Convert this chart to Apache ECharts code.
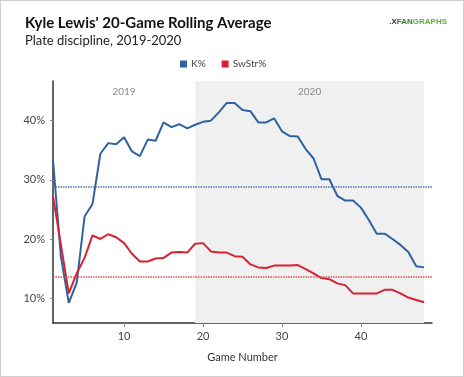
<!DOCTYPE html>
<html>
<head>
<meta charset="utf-8">
<script src="https://cdn.jsdelivr.net/npm/echarts@6/dist/echarts.min.js"></script>
<style>
  html, body { margin: 0; padding: 0; background: #fff; }
  #chart { width: 464px; height: 377px; box-sizing: border-box; border: 1px solid #cfcfcf; }
</style>
</head>
<body>
<div id="chart"></div>
<script>
// game numbers 1..48
const games = [1,2,3,4,5,6,7,8,9,10,11,12,13,14,15,16,17,18,19,20,21,22,23,24,
  25,26,27,28,29,30,31,32,33,34,35,36,37,38,39,40,41,42,43,44,45,46,47,48]

// K% 20-game rolling
const kPct = [33.3,17.0,9.2,12.6,23.8,25.9,34.4,36.2,36.0,37.2,34.8,34.0,36.8,36.6,39.7,38.9,39.4,38.7,39.3,39.8,
  40.0,41.4,43.0,43.0,41.8,41.6,39.7,39.7,40.4,38.2,37.4,37.3,35.2,33.6,30.1,30.1,27.3,26.5,26.5,25.3,
  23.2,20.9,20.9,20.0,19.0,17.8,15.4,15.2]

// SwStr% 20-game rolling
const swStr = [27.3,19.0,10.8,14.2,16.8,20.6,20.0,20.8,20.3,19.3,17.5,16.2,16.2,16.7,16.8,17.7,17.8,17.7,19.2,19.3,
  17.9,17.7,17.7,17.1,17.0,15.7,15.2,15.1,15.5,15.5,15.5,15.6,14.9,14.2,13.4,13.2,12.5,12.2,10.8,10.8,
  10.8,10.8,11.4,11.4,10.8,10.1,9.7,9.3]

// season averages (dotted)
const kAvg = 28.8
const swAvg = 13.6

const xTicks = [10, 20, 30, 40]
const yTicks = [10, 20, 30, 40]

const seasons = [
  { name: '2019', from: 1, to: 19 },
  { name: '2020', from: 19, to: 48 }
]

const blue = '#2f63a0'
const red = '#d62232'

const chart = echarts.init(document.getElementById('chart'))

const option = {
  animation: false,
  textStyle: { fontFamily: 'Lato, sans-serif' },
  title: {
    text: "Kyle Lewis' 20-Game Rolling Average",
    subtext: 'Plate discipline, 2019-2020',
    left: 19,
    top: 10,
    itemGap: 3,
    textStyle: { fontSize: 15, fontWeight: 'bold', color: '#111' },
    subtextStyle: { fontSize: 13, color: '#222' }
  },
  graphic: [{
    type: 'text',
    right: 16,
    top: 17,
    style: {
      text: '{a|.X}{b|FAN}{c|GRAPHS}',
      rich: {
        a: { fontSize: 8, fontWeight: 'bold', fill: '#333' },
        b: { fontSize: 8, fontWeight: 'bold', fill: '#2f7d1f' },
        c: { fontSize: 8, fontWeight: 'bold', fill: '#5fb336' }
      }
    }
  }],
  legend: {
    top: 53,
    left: 174,
    itemWidth: 7,
    itemHeight: 7,
    itemGap: 16,
    icon: 'rect',
    textStyle: { fontSize: 10, color: '#444', padding: [0, 0, 0, -1] },
    data: ['K%', 'SwStr%']
  },
  grid: { left: 52, right: 31, top: 80, bottom: 53 },
  xAxis: {
    type: 'value',
    min: 1,
    max: 49,
    name: 'Game Number',
    nameLocation: 'middle',
    nameGap: 29,
    nameTextStyle: { fontSize: 11, color: '#333' },
    axisLine: { lineStyle: { color: '#333', width: 1.5 } },
    axisTick: { show: true, customValues: xTicks, length: 4, lineStyle: { color: '#888' } },
    axisLabel: { customValues: xTicks, fontSize: 11, color: '#444', margin: 8 },
    splitLine: { show: false }
  },
  yAxis: {
    type: 'value',
    min: 5.8,
    max: 46.7,
    axisLine: { show: true, lineStyle: { color: '#333', width: 1.5 } },
    axisTick: { show: true, customValues: yTicks, length: 3, lineStyle: { color: '#888' } },
    axisLabel: { customValues: yTicks, formatter: '{value}%', fontSize: 11, color: '#444', margin: 8 },
    splitLine: { show: false }
  },
  series: [
    {
      name: 'K%',
      type: 'line',
      data: games.map((g, i) => [g, kPct[i]]),
      showSymbol: false,
      lineStyle: { color: blue, width: 2 },
      itemStyle: { color: blue },
      z: 3,
      markArea: {
        silent: true,
        label: { position: 'insideTop', distance: 6, color: '#8a8a8a', fontSize: 10 },
        data: seasons.map((s, i) => [
          { name: s.name, xAxis: s.from, itemStyle: { color: i === 0 ? 'rgba(0,0,0,0)' : '#f0f0f0' } },
          { xAxis: s.to }
        ])
      },
      markLine: {
        silent: true,
        symbol: 'none',
        label: { show: false },
        data: [{ yAxis: kAvg, lineStyle: { color: '#4a78b0', type: [1.5, 1], width: 1.5 } }]
      }
    },
    {
      name: 'SwStr%',
      type: 'line',
      data: games.map((g, i) => [g, swStr[i]]),
      showSymbol: false,
      lineStyle: { color: red, width: 2 },
      itemStyle: { color: red },
      z: 4,
      markLine: {
        silent: true,
        symbol: 'none',
        label: { show: false },
        data: [{ yAxis: swAvg, lineStyle: { color: '#e0505c', type: [1.5, 1], width: 1.5 } }]
      }
    }
  ]
}

chart.setOption(option)
</script>
</body>
</html>
